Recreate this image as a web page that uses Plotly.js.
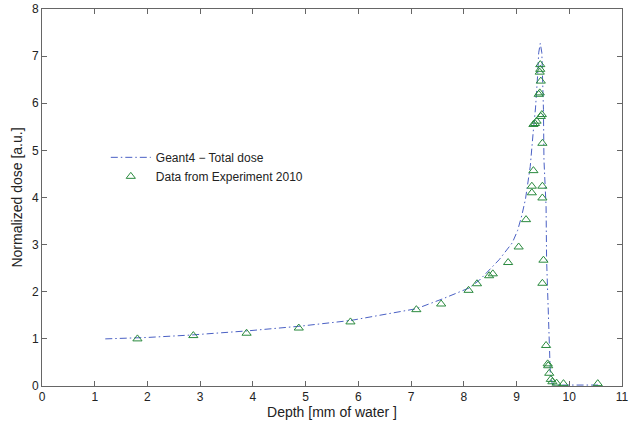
<!DOCTYPE html>
<html>
<head>
<meta charset="utf-8">
<script src="https://cdn.plot.ly/plotly-3.0.1.min.js"></script>
<style>html,body{margin:0;padding:0;background:#fff;}#chart{width:633px;height:423px;}</style>
</head>
<body>
<div id="chart"></div>
<script>
// Geant4 simulated total dose curve
const simDepth = [1.2, 2.0, 2.8, 3.9, 4.9, 5.85, 7.1, 7.6, 8.1, 8.3, 8.67, 8.92, 9.02, 9.1, 9.17, 9.26, 9.32, 9.36, 9.40, 9.42, 9.45, 9.48, 9.51, 9.52, 9.56, 9.57, 9.64, 9.68, 9.8, 10.0, 10.6];
const simDose  = [1.0, 1.03, 1.08, 1.17, 1.27, 1.39, 1.64, 1.85, 2.08, 2.25, 2.68, 3.04, 3.3, 3.62, 3.97, 4.66, 5.44, 5.9, 6.6, 7.07, 7.27, 7.07, 5.87, 4.8, 3.81, 2.68, 0.28, 0.03, 0.02, 0.02, 0.02];
// Experimental data 2010
const expDepth = [1.81, 2.87, 3.88, 4.87, 5.85, 7.10, 7.57, 8.09, 8.25, 8.48, 8.55, 8.84, 9.04, 9.18, 9.29, 9.29, 9.32, 9.32, 9.35, 9.38, 9.42, 9.44, 9.46, 9.44, 9.45, 9.45, 9.46, 9.48, 9.49, 9.49, 9.49, 9.51, 9.49, 9.56, 9.59, 9.60, 9.62, 9.65, 9.68, 9.76, 9.89, 10.54];
const expDose  = [1.00, 1.07, 1.12, 1.23, 1.36, 1.62, 1.74, 2.03, 2.17, 2.34, 2.38, 2.62, 2.95, 3.53, 4.10, 4.24, 4.57, 5.55, 5.57, 5.62, 6.19, 6.22, 6.47, 6.66, 6.72, 6.82, 5.72, 5.76, 5.15, 4.24, 3.99, 2.67, 2.18, 0.86, 0.47, 0.43, 0.27, 0.14, 0.09, 0.06, 0.05, 0.05];
const xTicks = [0,1,2,3,4,5,6,7,8,9,10,11];
const yTicks = [0,1,2,3,4,5,6,7,8];

const font = {family: 'Liberation Sans, Arial, sans-serif', size: 12, color: '#222'};
const titleFont = {family: 'Liberation Sans, Arial, sans-serif', size: 14, color: '#222'};
const axisCommon = {
  showgrid: false, zeroline: false, showline: true, mirror: 'ticks',
  linecolor: '#666', linewidth: 1, ticks: 'inside', ticklen: 5, tickcolor: '#666',
  tickfont: font, tickmode: 'array'
};
Plotly.newPlot('chart', [
  {x: simDepth, y: simDose, mode: 'lines', name: 'Geant4 \u2212 Total dose',
   line: {color: '#4a60c4', width: 1, dash: '7px,3px,1.5px,3px'}},
  {x: expDepth, y: expDose, mode: 'markers', name: 'Data from Experiment 2010',
   marker: {symbol: 'triangle-up-open', size: 8, color: '#2a8a3e', line: {width: 1}}}
], {
  width: 633, height: 423,
  margin: {l: 42, r: 11, t: 9, b: 37},
  paper_bgcolor: '#fff', plot_bgcolor: '#fff',
  font: font,
  showlegend: true,
  legend: {x: 0.11, y: 0.645, xanchor: 'left', yanchor: 'top', bgcolor: 'rgba(0,0,0,0)',
           font: font, tracegroupgap: 0, itemwidth: 40},
  xaxis: Object.assign({}, axisCommon, {range: [0, 11], tickvals: xTicks, ticktext: xTicks.map(String),
           title: {text: 'Depth [mm of water ]', font: titleFont, standoff: 2}}),
  yaxis: Object.assign({}, axisCommon, {range: [0, 8], tickvals: yTicks, ticktext: yTicks.map(String),
           title: {text: 'Normalized dose [a.u.]', font: titleFont, standoff: 6}})
}, {staticPlot: true});
</script>
</body>
</html>
